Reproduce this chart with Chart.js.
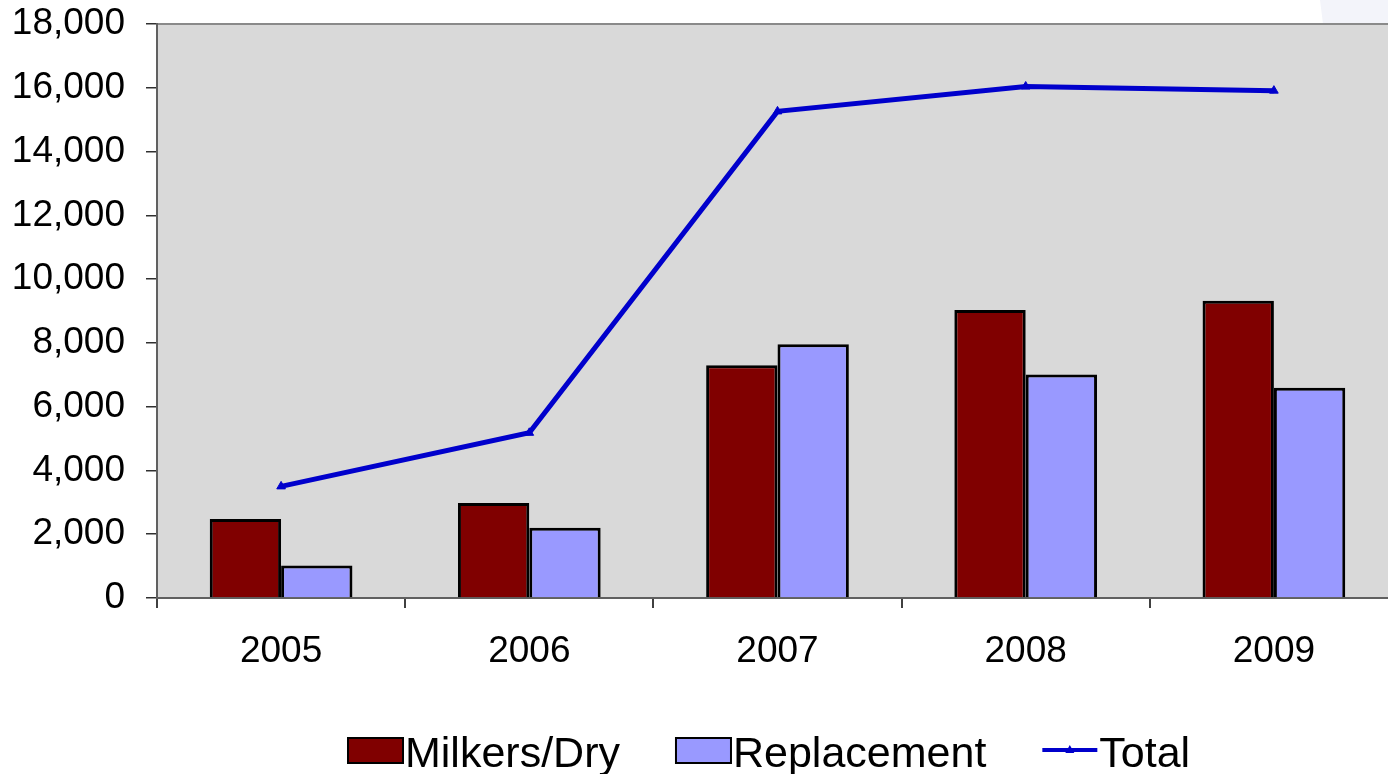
<!DOCTYPE html>
<html>
<head>
<meta charset="utf-8">
<script src="https://cdn.jsdelivr.net/npm/chart.js@4/dist/chart.umd.min.js"></script>
<style>
html, body { margin: 0; padding: 0; background: #fff; overflow: hidden; }
canvas { display: block; }
</style>
</head>
<body>
<canvas id="chart_cows" width="1404" height="774"></canvas>
<script>
// данные графика
var years = ['2005', '2006', '2007', '2008', '2009'];
var milkers = [2480, 2980, 7300, 9030, 9320];
var replacement = [1020, 2200, 7960, 7010, 6590];
var total = [3500, 5180, 15260, 16040, 15910];
var yMax = 18000;
var yStep = 2000;

var FONT = '"Liberation Sans", Arial, sans-serif';

// серый фон области графика и рамка сверху
var plotBg = {
    id: 'plotBg',
    beforeDraw: function (chart) {
        var c = chart.ctx, a = chart.chartArea;
        c.save();
        // бледный угол фона слайда справа сверху
        c.fillStyle = '#f3f4fa';
        c.beginPath();
        c.moveTo(1320, 0); c.lineTo(1404, 0); c.lineTo(1404, a.top); c.lineTo(1323, a.top);
        c.closePath(); c.fill();
        c.fillStyle = '#d9d9d9';
        c.fillRect(a.left, a.top, a.right - a.left, a.bottom - a.top);
        c.strokeStyle = '#8a8a8a';
        c.lineWidth = 2;
        c.beginPath();
        c.moveTo(a.left, a.top);
        c.lineTo(a.right, a.top);
        c.stroke();
        c.restore();
    }
};

// своя легенда внизу
var bottomLegend = {
    id: 'bottomLegend',
    afterDraw: function (chart) {
        var c = chart.ctx;
        var x = 348, yMid = 750, base = 767;
        c.save();
        c.font = '43px ' + FONT;
        c.textBaseline = 'alphabetic';
        c.fillStyle = '#000';
        [1, 2, 0].forEach(function (i) {
            var ds = chart.data.datasets[i];
            if (ds.type === 'line') {
                c.strokeStyle = ds.borderColor;
                c.lineWidth = 4;
                c.beginPath();
                c.moveTo(x, yMid); c.lineTo(x + 55, yMid);
                c.stroke();
                c.fillStyle = ds.borderColor;
                c.beginPath();
                c.moveTo(x + 27.5, yMid - 5); c.lineTo(x + 32, yMid + 3); c.lineTo(x + 23, yMid + 3);
                c.closePath(); c.fill();
            } else {
                c.fillStyle = ds.backgroundColor;
                c.fillRect(x, yMid - 12, 55, 25);
                c.strokeStyle = '#000';
                c.lineWidth = 2;
                c.strokeRect(x, yMid - 12, 55, 25);
            }
            c.fillStyle = '#000';
            c.fillText(ds.label, x + 57, base);
            x += 57 + c.measureText(ds.label).width + 56;
        });
        c.restore();
    }
};

var ctx = document.getElementById('chart_cows').getContext('2d');
var chart = new Chart(ctx, {
    type: 'bar',
    data: {
        labels: years,
        datasets: [{
            type: 'line',
            label: 'Total',
            data: total,
            borderColor: '#0000cc',
            backgroundColor: '#0000cc',
            borderWidth: 5,
            pointStyle: 'triangle',
            pointRadius: 5,
            pointBorderWidth: 1,
            tension: 0,
            order: 0
        }, {
            label: 'Milkers/Dry',
            data: milkers,
            backgroundColor: '#800000',
            borderColor: '#000',
            borderWidth: 3,
            order: 1
        }, {
            label: 'Replacement',
            data: replacement,
            backgroundColor: '#9999ff',
            borderColor: '#000',
            borderWidth: 3,
            order: 1
        }]
    },
    options: {
        responsive: false,
        animation: false,
        layout: { padding: { top: 24, right: 0, left: 0, bottom: 0 } },
        datasets: {
            bar: { barPercentage: 1, categoryPercentage: 0.575 }
        },
        plugins: {
            legend: { display: false },
            tooltip: { enabled: false }
        },
        scales: {
            x: {
                grid: { offset: true, drawOnChartArea: false, tickLength: 10, color: '#404040', lineWidth: 2 },
                border: { color: '#606060', width: 2 },
                ticks: { color: '#000', font: { family: FONT, size: 37 }, padding: 22, maxRotation: 0 },
                afterFit: function (s) { s.height = 176; s.paddingLeft = 0; s.paddingRight = 0; }
            },
            y: {
                min: 0,
                max: yMax,
                grid: { drawOnChartArea: false, tickLength: 11, color: '#303030', lineWidth: 1.5 },
                border: { color: '#606060', width: 2 },
                ticks: {
                    stepSize: yStep,
                    color: '#000',
                    font: { family: FONT, size: 37 },
                    padding: 21,
                    callback: function (v) { return v.toLocaleString('en-US'); }
                },
                afterFit: function (s) { s.width = 157; s.paddingTop = 0; s.paddingBottom = 0; }
            }
        }
    },
    plugins: [plotBg, bottomLegend]
});
</script>
</body>
</html>
